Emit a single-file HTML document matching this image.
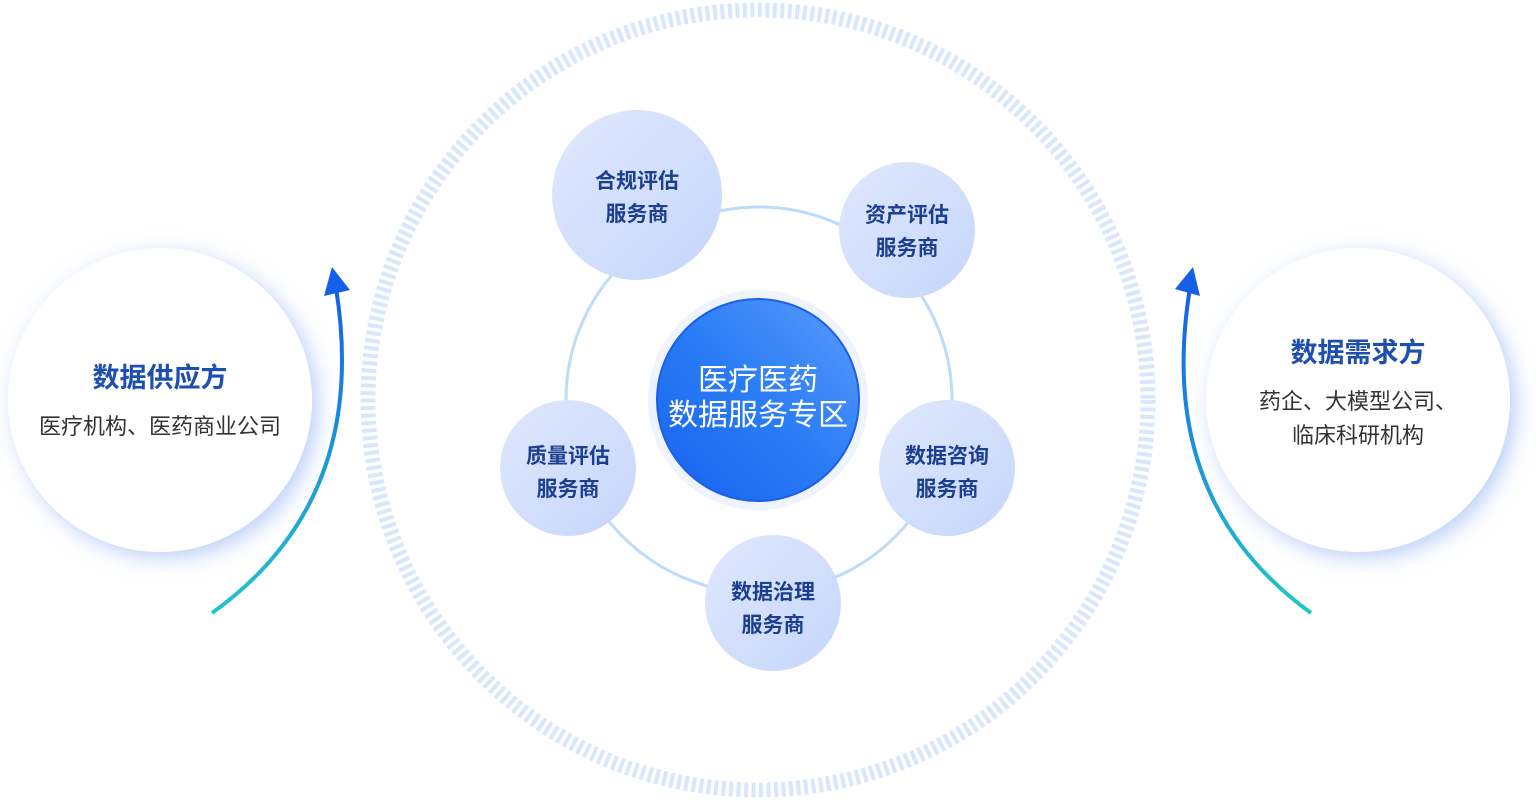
<!DOCTYPE html>
<html><head><meta charset="utf-8"><style>
html,body{margin:0;padding:0;background:#fff;}
body{width:1536px;height:800px;overflow:hidden;}
text{font-family:"Liberation Sans","Noto Sans CJK SC",sans-serif;}
</style></head><body>
<svg width="1536" height="800" viewBox="0 0 1536 800" xmlns="http://www.w3.org/2000/svg">
<defs>
<linearGradient id="ag" x1="0" y1="1" x2="0" y2="0">
<stop offset="0" stop-color="#22c7c9"/><stop offset="1" stop-color="#1560e8"/>
</linearGradient>
<linearGradient id="nodeg" x1="0" y1="0" x2="1" y2="1">
<stop offset="0" stop-color="#dfe8fd"/><stop offset="1" stop-color="#c6d6fb"/>
</linearGradient>
<linearGradient id="cg" x1="1" y1="0" x2="0" y2="1">
<stop offset="0" stop-color="#5b9cfb"/><stop offset="0.5" stop-color="#2a7cf6"/><stop offset="1" stop-color="#1662ee"/>
</linearGradient>
<filter id="sh" x="-30%" y="-30%" width="160%" height="160%">
<feDropShadow dx="6" dy="6" stdDeviation="10" flood-color="#8fb0f2" flood-opacity="0.6"/>
</filter>
</defs>
<circle cx="758" cy="400" r="390" fill="none" stroke="#d8e7fd" stroke-width="15" stroke-dasharray="4 3.5"/>
<circle cx="759" cy="400" r="193" fill="none" stroke="#bcdcfa" stroke-width="3"/>
<circle cx="758" cy="400" r="110" fill="#eef3fe"/>
<circle cx="758" cy="400" r="101" fill="url(#cg)" stroke="#1a5fe6" stroke-width="2"/>
<text x="758" y="390" font-size="30" fill="#fff" text-anchor="middle">医疗医药</text>
<text x="758" y="425" font-size="30" fill="#fff" text-anchor="middle">数据服务专区</text>
<g font-size="21" fill="#1d3f8f" text-anchor="middle" font-weight="bold">
<circle cx="637" cy="195" r="85" fill="url(#nodeg)"/>
<text x="637" y="188">合规评估</text><text x="637" y="221">服务商</text>
<circle cx="907" cy="230" r="68" fill="url(#nodeg)"/>
<text x="907" y="222">资产评估</text><text x="907" y="255">服务商</text>
<circle cx="947" cy="468" r="68" fill="url(#nodeg)"/>
<text x="947" y="463">数据咨询</text><text x="947" y="496">服务商</text>
<circle cx="773" cy="603" r="68" fill="url(#nodeg)"/>
<text x="773" y="599">数据治理</text><text x="773" y="632">服务商</text>
<circle cx="568" cy="468" r="68" fill="url(#nodeg)"/>
<text x="568" y="463">质量评估</text><text x="568" y="496">服务商</text>
</g>
<circle cx="160" cy="400" r="152" fill="#fff" filter="url(#sh)"/>
<circle cx="1358" cy="400" r="152" fill="#fff" filter="url(#sh)"/>
<text x="160" y="387" font-size="27" font-weight="bold" fill="#1d4fb0" text-anchor="middle">数据供应方</text>
<text x="160" y="434" font-size="22" fill="#333" text-anchor="middle">医疗机构、医药商业公司</text>
<text x="1358" y="362" font-size="27" font-weight="bold" fill="#1d4fb0" text-anchor="middle">数据需求方</text>
<text x="1358" y="409" font-size="22" fill="#333" text-anchor="middle">药企、大模型公司、</text>
<text x="1358" y="443" font-size="22" fill="#333" text-anchor="middle">临床科研机构</text>
<path d="M212,613 Q370,500 336,288" fill="none" stroke="url(#ag)" stroke-width="4"/>
<polygon points="332,267 350,290 324,296" fill="#1560e8"/>
<path d="M1311,613 Q1155,500 1190,288" fill="none" stroke="url(#ag)" stroke-width="4"/>
<polygon points="1193,267 1175,289 1200,296" fill="#1560e8"/>
</svg>
</body></html>
